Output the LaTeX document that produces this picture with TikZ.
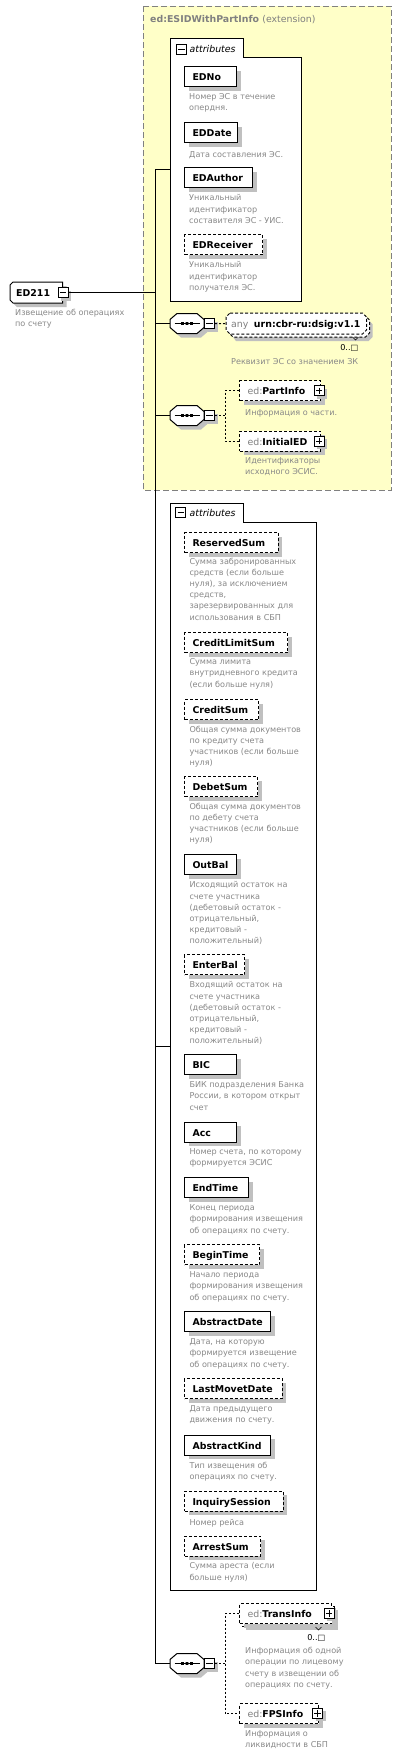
\documentclass[tikz,border=0pt]{standalone}
\usepackage{fontspec}
\setmainfont{DejaVu Sans}
\usetikzlibrary{shadows}
\definecolor{ylw}{HTML}{FFFFC8}
\definecolor{dsc}{HTML}{888888}
\definecolor{gr}{HTML}{808080}
\definecolor{shd}{HTML}{C0C0C0}
\newcommand\myNm{\fontsize{9.4}{11}\selectfont\bfseries}
\newcommand\myDs{\fontsize{8.1}{11.2}\selectfont}
\newcommand\myIt{\fontsize{9.4}{11}\selectfont\itshape}
\newcommand\nb[6]{\node[nbox,#1] (#2) at (#3,#4) {\hbox to #5pt{\hskip8pt\relax#6\hfil}};}
\newcommand\dsc[4]{\node[desc] (#1) at (#2,{#3-5.5}) {#4};}
\newcommand\seqc[3]{%
 \begin{scope}[shift={(#2,#3)}]
  \fill[shd] (-6,-6) -- (14,-6) -- (21,0) -- (21,8) -- (14,14) -- (-6,14) -- (-13,8) -- (-13,0) -- cycle;
  \draw[conn,fill=white] (-10,-10) -- (10,-10) -- (17,-4) -- (17,4) -- (10,10) -- (-10,10) -- (-17,4) -- (-17,-4) -- cycle;
  \draw[conn] (-12.5,0) -- (12.5,0);
  \fill (-5.8,-1.4) rectangle ++(2.6,2.8) (-1.3,-1.4) rectangle ++(2.6,2.8) (3.2,-1.4) rectangle ++(2.6,2.8);
  \node[inner sep=0pt, minimum width=34pt, minimum height=20pt] (#1) at (0,0) {};
 \end{scope}}
\begin{document}
\begin{tikzpicture}[x=1pt,y=-1pt,
 conn/.style={draw=black, line width=1pt},
 dconn/.style={conn, dash pattern=on 2pt off 2pt},
 sh/.style={general shadow={fill=shd, shadow xshift=4pt, shadow yshift=-4pt}},
 shs/.style={general shadow={fill=shd, shadow xshift=3pt, shadow yshift=-3pt}},
 nbox/.style={draw=black, fill=white, line width=1pt, anchor=north west, minimum height=20pt, inner sep=0pt, text height=9pt, text depth=1pt, font=\myNm, sh},
 opt/.style={dash pattern=on 3pt off 2pt},
 desc/.style={anchor=north west, inner sep=0pt, align=left, font=\myDs, text=dsc, execute at begin node=\strut},
 pmb/.style={draw=black, fill=white, line width=1pt, minimum width=10pt, minimum height=10pt, inner sep=0pt},
 pmm/.style={pmb, path picture={\draw[line width=1pt] ([xshift=1.8pt]path picture bounding box.west) -- ([xshift=-1.8pt]path picture bounding box.east);}},
 pmp/.style={pmb, path picture={\draw[line width=1pt] ([xshift=1.8pt]path picture bounding box.west) -- ([xshift=-1.8pt]path picture bounding box.east) ([yshift=-1.8pt]path picture bounding box.north) -- ([yshift=1.8pt]path picture bounding box.south);}},
 ]
\useasboundingbox (0,0) rectangle (401,1757);
\fill[white] (0,0) rectangle (401,1757);
% extension region
\draw[fill=ylw, draw=gr, line width=1pt, dash pattern=on 6pt off 3pt] (143,6) rectangle (391,490);
\node[anchor=base west, inner sep=0pt, text=gr] (ttl) at (150,22.7) {{\myNm ed:ESIDWithPartInfo} {\fontsize{9.4}{11}\selectfont(extension)}};
\coordinate (tk) at (155,0);
% attributes 1
\draw[conn, fill=white] (170,38) -- (243,38) -- (243,57) -- (301,57) -- (301,301) -- (170,301) -- cycle;
\coordinate (a1) at (170,169);
\node[pmm] (am1) at (181.3,49.5) {};
\node[anchor=base west, inner sep=0pt, font=\myIt] (at1) at (189.5,52.5) {attributes};
\nb{}{edno}{184}{66}{52}{EDNo}
\dsc{dedno}{189}{99}{Номер ЭС в течение\\опердня.}
\nb{}{eddate}{184}{122}{53}{EDDate}
\dsc{deddate}{189}{155}{Дата составления ЭС.}
\nb{}{edauthor}{184}{167}{68}{EDAuthor}
\dsc{dedauthor}{189}{200}{Уникальный\\идентификатор\\составителя ЭС - УИС.}
\nb{opt}{edreceiver}{184}{234}{78}{EDReceiver}
\dsc{dedreceiver}{189}{267}{Уникальный\\идентификатор\\получателя ЭС.}
% root ED211
\fill[shd] (17,286) -- (66.5,286) -- (66.5,307) -- (17,307) -- (14,304) -- (14,289) -- cycle;
\draw[conn, fill=white] (13,282) -- (62.5,282) -- (62.5,303) -- (13,303) -- (10,300) -- (10,285) -- cycle;
\node[anchor=base west, inner sep=0pt, font=\myNm] (ed) at (16,296.3) {ED211};
\node[pmm, shs] (edm) at (63,292.5) {};
\dsc{ded}{15}{314}{Извещение об операциях\\по счету}
% sequence 1 with any
\seqc{s1}{187}{323.5}
\node[pmm, shs] (s1m) at (209.5,323.5) {};
\fill[shd] (236,320) -- (368.5,320) -- (372.5,324) -- (372.5,337) -- (368.5,341) -- (236,341) -- (233,337) -- (233,324) -- cycle;
\draw[conn, opt, fill=white] (233,316) -- (365.5,316) -- (369.5,320) -- (369.5,333) -- (365.5,337) -- (233,337) -- (229,333) -- (229,320) -- cycle;
\draw[conn, opt, fill=white] (230,313) -- (362.5,313) -- (366.5,317) -- (366.5,330) -- (362.5,334) -- (230,334) -- (226,330) -- (226,317) -- cycle;
\node[inner sep=0pt, minimum width=140.5pt, minimum height=21pt, anchor=north west] (anyb) at (226,313) {};
\node[anchor=base west, inner sep=0pt, font=\myNm] (anyt) at (231,327.5) {{\mdseries\color{gr}any}\hspace{5.5pt}urn:cbr-ru:dsig:v1.1};
\draw[line width=0.6pt] (352.5,337) -- (355.5,340) -- (358.5,337);
\node[anchor=base east, inner sep=0pt, font=\myDs] (anyc) at (358.5,350.5) {0..□};
\dsc{dany}{231}{362}{Реквизит ЭС со значением ЗК}
% sequence 2
\seqc{s2}{187}{415.5}
\node[pmm, shs] (s2m) at (209.5,415.5) {};
\coordinate (j2) at (225,0);
\nb{opt}{partinfo}{239}{380}{81}{{\mdseries\color{gr}ed:}PartInfo}
\node[pmp, shs] (pp1) at (319,390.7) {};
\dsc{dpartinfo}{245}{413}{Информация о части.}
\nb{opt}{initialed}{239}{430.5}{81}{{\mdseries\color{gr}ed:}InitialED}
\node[pmp, shs] (pp2) at (319,441) {};
\dsc{dinitialed}{245}{462.7}{Идентификаторы\\исходного ЭСИС.}
% attributes 2
\draw[conn, fill=white] (170.5,503) -- (243,503) -- (243,522) -- (316,522) -- (316,1590) -- (170.5,1590) -- cycle;
\coordinate (a2) at (170.5,1046.5);
\node[pmm] (am2) at (180.8,512.8) {};
\node[anchor=base west, inner sep=0pt, font=\myIt] (at2) at (189.5,516.8) {attributes};
\nb{opt}{reservedsum}{184}{532}{93.5}{ReservedSum}
\dsc{dreservedsum}{189.3}{563}{Сумма забронированных\\средств (если больше\\нуля), за исключением\\средств,\\зарезервированных для\\использования в СБП}
\nb{opt}{creditlimitsum}{184}{632}{103}{CreditLimitSum}
\dsc{dcreditlimitsum}{189.3}{664}{Сумма лимита\\внутридневного кредита\\(если больше нуля)}
\nb{opt}{creditsum}{184}{699}{74}{CreditSum}
\dsc{dcreditsum}{189.3}{731}{Общая сумма документов\\по кредиту счета\\участников (если больше\\нуля)}
\nb{opt}{debetsum}{184}{776}{73}{DebetSum}
\dsc{ddebetsum}{189.3}{808}{Общая сумма документов\\по дебету счета\\участников (если больше\\нуля)}
\nb{}{outbal}{184}{854}{52}{OutBal}
\dsc{doutbal}{189.3}{887}{Исходящий остаток на\\счете участника\\(дебетовый остаток -\\отрицательный,\\кредитовый -\\положительный)}
\nb{opt}{enterbal}{184}{954}{60}{EnterBal}
\dsc{denterbal}{189.3}{987}{Входящий остаток на\\счете участника\\(дебетовый остаток -\\отрицательный,\\кредитовый -\\положительный)}
\nb{}{bic}{184}{1054}{52}{BIC}
\dsc{dbic}{189.3}{1087}{БИК подразделения Банка\\России, в котором открыт\\счет}
\nb{}{acc}{184}{1121.5}{52}{Acc}
\dsc{dacc}{189.3}{1154}{Номер счета, по которому\\формируется ЭСИС}
\nb{}{endtime}{184}{1177}{64}{EndTime}
\dsc{dendtime}{189.3}{1210}{Конец периода\\формирования извещения\\об операциях по счету.}
\nb{opt}{begintime}{184}{1244}{75}{BeginTime}
\dsc{dbegintime}{189.3}{1277}{Начало периода\\формирования извещения\\об операциях по счету.}
\nb{}{abstractdate}{184}{1311}{86}{AbstractDate}
\dsc{dabstractdate}{189.3}{1344}{Дата, на которую\\формируется извещение\\об операциях по счету.}
\nb{opt}{lastmovetdate}{184}{1378}{97.5}{LastMovetDate}
\dsc{dlastmovetdate}{189.3}{1411}{Дата предыдущего\\движения по счету.}
\nb{}{abstractkind}{184}{1434.5}{86}{AbstractKind}
\dsc{dabstractkind}{189.3}{1467}{Тип извещения об\\операциях по счету.}
\nb{opt}{inquirysession}{184}{1490.5}{98.5}{InquirySession}
\dsc{dinquirysession}{189.3}{1523}{Номер рейса}
\nb{opt}{arrestsum}{184}{1535.5}{76}{ArrestSum}
\dsc{darrestsum}{189.3}{1568}{Сумма ареста (если\\больше нуля)}
% sequence 3
\seqc{s3}{187}{1663.5}
\node[pmm, shs] (s3m) at (209.5,1663.5) {};
\coordinate (j3) at (225,0);
\fill[shd] (246,1610) rectangle (338,1630);
\draw[conn, opt, fill=white] (242,1606) rectangle (334,1626);
\nb{opt, general shadow={fill=none}}{transinfo}{239}{1603}{92}{{\mdseries\color{gr}ed:}TransInfo}
\node[pmp, shs] (pp3) at (329,1613.3) {};
\draw[line width=0.6pt] (315.5,1627) -- (318.5,1630) -- (321.5,1627);
\node[anchor=base east, inner sep=0pt, font=\myDs] (tic) at (325.5,1640) {0..□};
\dsc{dtransinfo}{245}{1652.7}{Информация об одной\\операции по лицевому\\счету в извещении об\\операциях по счету.}
\nb{opt}{fpsinfo}{239}{1703}{79}{{\mdseries\color{gr}ed:}FPSInfo}
\node[pmp, shs] (pp4) at (317.5,1713.3) {};
\dsc{dfpsinfo}{245}{1735.7}{Информация о\\ликвидности в СБП}
% connectors
\draw[conn] (a1) -- (a1 -| tk) |- (s3.west);
\draw[conn] (edm.east) -- (edm.east -| tk);
\draw[conn] (s1.west -| tk) -- (s1.west);
\draw[conn] (s2.west -| tk) -- (s2.west);
\draw[conn] (a2 -| tk) -- (a2);
\draw[dconn] (s1m.east) -- (anyb.west);
\draw[dconn] (s2m.east) -- (s2m.east -| j2);
\draw[dconn] (partinfo.west) -| (j2 |- initialed.west) -- (initialed.west);
\draw[dconn] (s3m.east) -- (s3m.east -| j3);
\draw[dconn] (transinfo.west) -| (j3 |- fpsinfo.west) -- (fpsinfo.west);
\end{tikzpicture}
\end{document}
